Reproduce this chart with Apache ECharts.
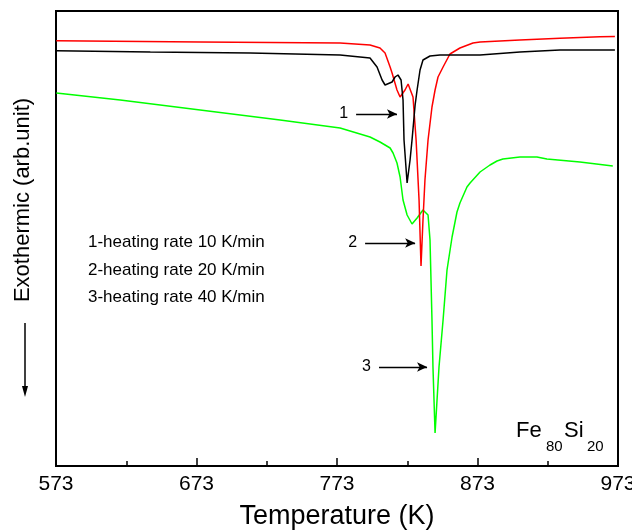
<!DOCTYPE html>
<html>
<head>
<meta charset="utf-8">
<script src="https://cdn.jsdelivr.net/npm/echarts@6/dist/echarts.min.js"></script>
<style>html,body{margin:0;padding:0;background:#fff}#c{width:632px;height:531px}</style>
</head>
<body>
<div id="c"></div>
<script>
// X axis ticks
var xTicks = [573, 673, 773, 873, 973];

// Curve 1 — heating rate 10 K/min (black)
var blackT = [573.2,640.1,711.2,775.2,789.4,796.5,801.5,805.1,807.2,808.6,812.2,814.3,816.4,818.6,820.0,820.7,822.9,825.0,826.4,828.6,830.0,832.1,834.2,839.2,846.3,874.8,903.2,931.7,970.8];
var blackY = [415.3,414,413,411,409,408,399,386,381,380,384,389,391,386,366,326,283,306,326,361,376,396,406,410,411,411,414,416,416];

// Curve 2 — heating rate 20 K/min (red)
var redT = [573.2,675.6,775.2,796.5,803.6,807.2,810.8,812.2,815.7,817.9,821.4,823.6,825.0,827.1,829.3,831.4,832.8,834.2,835.6,837.8,840.6,842.8,844.9,848.5,853.4,860.5,869.8,874.8,903.2,931.7,960.1,970.8];
var redY = [425.3,424,423,421,418,413,399,393,376,369,376,382,384,369,326,266,200,246,286,326,359,376,389,399,412,418,423,424,426,427.7,429.3,429.5];

// Curve 3 — heating rate 40 K/min (green)
var greenT = [573.2,618.7,675.6,732.5,775.2,796.5,803.6,810.8,812.9,815.7,817.9,820.0,822.9,826.4,830.0,834.2,835.6,837.8,839.2,839.9,840.6,841.3,842.8,844.2,845.6,848.5,851.3,854.9,858.4,860.5,865.5,867.7,874.8,881.9,886.9,891.1,903.2,915.3,922.4,945.9,969.3];
var greenY = [373,366,356,346,338,329,324,318,313,303,289,266,251,242,248,256,257,251,226,186,146,99,33,66,99,146,196,229,254,263,279,283,294,301,305,307,309,309,307,304,300];

// Peak annotations (arrow start/end temperature, level)
var annoLabels = ['1', '2', '3'];
var annoStartT = [786.6, 793.0, 802.9];
var annoEndT = [815.7, 828.6, 837.1];
var annoY = [352, 223, 99];

var legendLines = ['1-heating rate 10 K/min', '2-heating rate 20 K/min', '3-heating rate 40 K/min'];

function pairs(t, y) { return t.map(function (v, i) { return [v, y[i]]; }); }
var FF = 'Liberation Sans, Arial, sans-serif';
function anno(i) {
  return {
    silent: true,
    animation: false,
    symbol: ['none', 'arrow'],
    symbolSize: [7, 10],
    lineStyle: { color: '#000', width: 1.3, type: 'solid' },
    label: { show: true, position: 'start', distance: 8, formatter: annoLabels[i], color: '#000', fontSize: 16, fontFamily: FF },
    data: [[{ coord: [annoStartT[i], annoY[i]] }, { coord: [annoEndT[i], annoY[i]] }]]
  };
}

var chart = echarts.init(document.getElementById('c'), null, { renderer: 'canvas' });
chart.setOption({
  animation: false,
  backgroundColor: '#fff',
  grid: { left: 56, right: 14, top: 11, bottom: 65, outerBoundsMode: 'none', containLabel: false, show: true, borderColor: '#000', borderWidth: 2, backgroundColor: 'transparent' },
  xAxis: {
    type: 'value', min: xTicks[0], max: xTicks[xTicks.length - 1], interval: 100,
    name: 'Temperature (K)', nameLocation: 'middle', nameGap: 37,
    nameTextStyle: { fontSize: 27, color: '#000', fontFamily: FF },
    axisLine: { show: true, lineStyle: { color: '#000', width: 2 } },
    axisTick: { show: true, inside: true, length: 8, lineStyle: { color: '#000', width: 1.5 } },
    minorTick: { show: true, splitNumber: 2, length: 5, lineStyle: { color: '#000', width: 1.5 } },
    axisLabel: { fontSize: 21, color: '#000', margin: 8, fontFamily: FF, showMinLabel: true, showMaxLabel: true, hideOverlap: false },
    splitLine: { show: false }
  },
  yAxis: {
    type: 'value', min: 0, max: 455,
    axisLine: { show: false }, axisTick: { show: false }, axisLabel: { show: false }, splitLine: { show: false }
  },
  series: [
    { type: 'line', data: pairs(blackT, blackY), showSymbol: false, symbol: 'none', lineStyle: { color: '#000', width: 1.5 }, z: 3, markLine: anno(0) },
    { type: 'line', data: pairs(redT, redY), showSymbol: false, symbol: 'none', lineStyle: { color: '#ff0000', width: 1.5 }, z: 2, markLine: anno(1) },
    { type: 'line', data: pairs(greenT, greenY), showSymbol: false, symbol: 'none', lineStyle: { color: '#00ff00', width: 1.5 }, z: 1, markLine: anno(2) }
  ],
  graphic: [
    { type: 'text', left: 88, top: 234, style: { text: legendLines[0], fontSize: 17, fill: '#000', fontFamily: FF } },
    { type: 'text', left: 88, top: 262, style: { text: legendLines[1], fontSize: 17, fill: '#000', fontFamily: FF } },
    { type: 'text', left: 88, top: 289, style: { text: legendLines[2], fontSize: 17, fill: '#000', fontFamily: FF } },
    { type: 'text', x: 23, y: 200, rotation: Math.PI / 2, style: { text: 'Exothermic (arb.unit)', fontSize: 22, fill: '#000', fontFamily: FF, align: 'center', verticalAlign: 'middle' } },
    { type: 'line', shape: { x1: 25, y1: 323, x2: 25, y2: 390 }, style: { stroke: '#000', lineWidth: 1.5 } },
    { type: 'polygon', shape: { points: [[22, 386], [28, 386], [25, 397]] }, style: { fill: '#000' } },
    { type: 'text', x: 516, y: 442, style: { text: 'Fe', fontSize: 22, fill: '#000', fontFamily: FF, align: 'left', verticalAlign: 'bottom' } },
    { type: 'text', x: 546, y: 454, style: { text: '80', fontSize: 15, fill: '#000', fontFamily: FF, align: 'left', verticalAlign: 'bottom' } },
    { type: 'text', x: 564, y: 442, style: { text: 'Si', fontSize: 22, fill: '#000', fontFamily: FF, align: 'left', verticalAlign: 'bottom' } },
    { type: 'text', x: 587, y: 454, style: { text: '20', fontSize: 15, fill: '#000', fontFamily: FF, align: 'left', verticalAlign: 'bottom' } }
  ]
});
</script>
</body>
</html>
